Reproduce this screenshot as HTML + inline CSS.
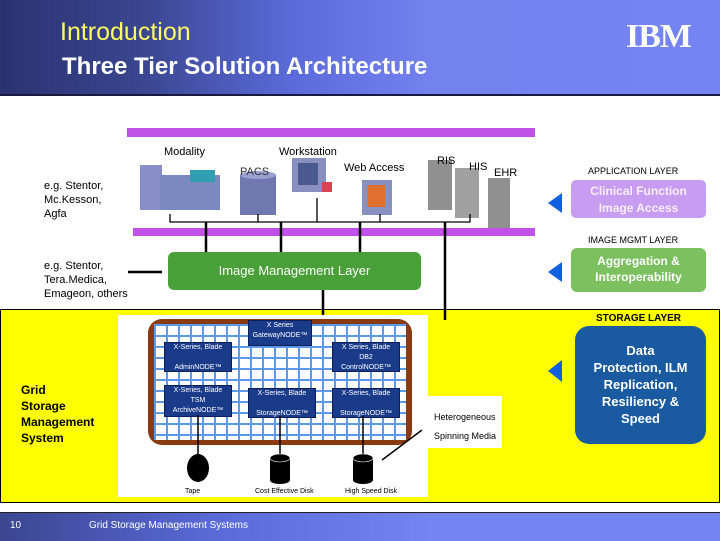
<!DOCTYPE html>
<html><head><style>
body{margin:0;width:720px;height:540px;position:relative;background:#fff;font-family:"Liberation Sans",sans-serif;overflow:hidden}
.a{position:absolute}
.t{font-size:11px;line-height:14px;color:#000}
.node{position:absolute;background:#1a3a8a;color:#fff;font-size:7px;text-align:center;line-height:10px;border:1px solid #0a1e5a}
</style></head><body>
<div class="a" style="left:0;top:0;width:720px;height:94px;background:linear-gradient(90deg,#2a3270 0%,#3a4690 20%,#5a6ad8 40%,#7482f0 60%,#7484f2 100%);border-bottom:2px solid #1a1a40"></div>
<div class="a" style="left:60px;top:18px;font-size:25px;color:#ffff60">Introduction</div>
<div class="a" style="left:62px;top:53px;font-size:24px;font-weight:bold;color:#fff">Three Tier Solution Architecture</div>
<div class="a" style="left:626px;top:18px;font-size:34px;font-weight:bold;color:#fff;letter-spacing:-1px;font-family:'Liberation Serif',serif">IBM</div>

<div class="a" style="left:127px;top:128px;width:408px;height:9px;background:#c050e8"></div>
<div class="a" style="left:133px;top:228px;width:402px;height:8px;background:#c050e8"></div>
<svg class="a" style="left:0;top:0" width="720" height="540">
<rect x="140" y="165" width="22" height="45" fill="#8a8ec8"/>
<rect x="160" y="175" width="60" height="35" fill="#7a8ac0"/>
<rect x="190" y="170" width="25" height="12" fill="#30a0b0"/>
<rect x="240" y="175" width="36" height="40" fill="#7078b0"/>
<ellipse cx="258" cy="175" rx="18" ry="4" fill="#9aa0d0"/>
<rect x="292" y="158" width="34" height="34" fill="#8890c0"/>
<rect x="298" y="163" width="20" height="22" fill="#4a5a90"/>
<path d="M322 182 l10 0 0 10 -10 0z" fill="#e04050"/>
<rect x="362" y="180" width="30" height="35" fill="#8890c0"/>
<rect x="367" y="185" width="18" height="22" fill="#e07030"/>
<rect x="428" y="160" width="24" height="50" fill="#909090"/>
<rect x="455" y="168" width="24" height="50" fill="#a0a0a0"/>
<rect x="488" y="178" width="22" height="50" fill="#909090"/>
<g stroke="#000" stroke-width="1.3" fill="none">
<path d="M170 214 V222 H470 V214 M258 214 V222 M317 198 V222 M380 214 V222"/>
</g>
<g stroke="#000" stroke-width="2.5">
<line x1="206" y1="222" x2="206" y2="252"/><line x1="281" y1="222" x2="281" y2="252"/><line x1="360" y1="222" x2="360" y2="252"/><line x1="445" y1="222" x2="445" y2="320"/>
<line x1="323" y1="290" x2="323" y2="320"/>
<line x1="128" y1="272" x2="162" y2="272"/>
</g>
<path d="M562 193 L548 203 L562 213Z" fill="#1060e0"/>
<path d="M562 262 L548 272 L562 282Z" fill="#1060e0"/>
<path d="M562 360 L548 371 L562 382Z" fill="#1060e0"/>
</svg>
<div class="a t" style="left:164px;top:145px">Modality</div>
<div class="a t" style="left:279px;top:145px">Workstation</div>
<div class="a t" style="left:240px;top:165px;color:#333">PACS</div>
<div class="a t" style="left:344px;top:161px">Web Access</div>
<div class="a t" style="left:437px;top:154px">RIS</div>
<div class="a t" style="left:469px;top:160px">HIS</div>
<div class="a t" style="left:494px;top:166px">EHR</div>
<div class="a t" style="left:44px;top:179px">e.g. Stentor,<br>Mc.Kesson,<br>Agfa</div>
<div class="a t" style="left:44px;top:259px">e.g. Stentor,<br>Tera.Medica,<br>Emageon, others</div>
<div class="a" style="left:168px;top:252px;width:253px;height:38px;background:#4aa038;border-radius:6px;color:#fff;font-size:13px;line-height:38px;text-align:center">Image Management Layer</div>
<div class="a" style="left:588px;top:166px;font-size:9px">APPLICATION LAYER</div>
<div class="a" style="left:571px;top:180px;width:135px;height:38px;background:#c89cf0;border-radius:5px;color:#f8eeff;font-size:12px;font-weight:bold;text-align:center;line-height:17px;padding-top:3px;box-sizing:border-box">Clinical Function<br>Image Access</div>
<div class="a" style="left:588px;top:235px;font-size:9px">IMAGE MGMT LAYER</div>
<div class="a" style="left:571px;top:248px;width:135px;height:44px;background:#7cc060;border-radius:6px;color:#fff;font-size:12px;font-weight:bold;text-align:center;line-height:16px;padding-top:5px;box-sizing:border-box">Aggregation &amp;<br>Interoperability</div>

<div class="a" style="left:0;top:309px;width:718px;height:192px;background:#ffff00;border:1px solid #000;z-index:-1"></div>
<div class="a" style="left:596px;top:313px;font-size:10px;font-weight:bold">STORAGE LAYER</div>
<div class="a" style="left:575px;top:326px;width:131px;height:118px;background:#1a5aa0;border-radius:14px;color:#fff;font-size:13px;font-weight:bold;text-align:center;line-height:17px;padding-top:16px;box-sizing:border-box">Data<br>Protection, ILM<br>Replication,<br>Resiliency &amp;<br>Speed</div>
<div class="a" style="left:21px;top:382px;font-size:12px;font-weight:bold;line-height:16px">Grid<br>Storage<br>Management<br>System</div>

<div class="a" style="left:118px;top:315px;width:310px;height:182px;background:#fff"></div>
<div class="a" style="left:428px;top:396px;width:74px;height:52px;background:#fff"></div>
<div class="a" style="left:148px;top:319px;width:264px;height:126px;background:#8a3a10;border-radius:14px"></div>
<div class="a" style="left:118px;top:330px;width:30px;height:18px;background:#fff"></div>
<div class="a" style="left:154px;top:324px;width:252px;height:116px;background-color:#fff;background-image:linear-gradient(90deg,#5a9ae8 2px,transparent 2px),linear-gradient(#5a9ae8 2px,transparent 2px);background-size:12px 11px"></div>
<div class="node" style="left:248px;top:320px;width:62px;height:24px">X Series<br>GatewayNODE™</div>
<div class="node" style="left:164px;top:342px;width:66px;height:28px">X-Series, Blade<br><br>AdminNODE™</div>
<div class="node" style="left:332px;top:342px;width:66px;height:28px">X Series, Blade<br>DB2<br>ControlNODE™</div>
<div class="node" style="left:164px;top:385px;width:66px;height:30px">X-Series, Blade<br>TSM<br>ArchiveNODE™</div>
<div class="node" style="left:248px;top:388px;width:66px;height:28px">X-Series, Blade<br><br>StorageNODE™</div>
<div class="node" style="left:332px;top:388px;width:66px;height:28px">X-Series, Blade<br><br>StorageNODE™</div>
<svg class="a" style="left:0;top:0" width="720" height="540">
<g stroke="#000" stroke-width="1.5"><line x1="198" y1="415" x2="198" y2="460"/><line x1="280" y1="416" x2="280" y2="460"/><line x1="363" y1="416" x2="363" y2="460"/><line x1="382" y1="460" x2="422" y2="430"/></g>
<ellipse cx="198" cy="468" rx="11" ry="14" fill="#000"/>
<path d="M270 458 h20 v22 a10 4 0 0 1 -20 0z" fill="#000"/><ellipse cx="280" cy="458" rx="10" ry="4" fill="#000" stroke="#fff" stroke-width=".6"/>
<path d="M353 458 h20 v22 a10 4 0 0 1 -20 0z" fill="#000"/><ellipse cx="363" cy="458" rx="10" ry="4" fill="#000" stroke="#fff" stroke-width=".6"/>
</svg>
<div class="a" style="left:434px;top:408px;font-size:9px;line-height:19px">Heterogeneous<br>Spinning Media</div>
<div class="a" style="left:185px;top:488px;font-size:7px">Tape</div>
<div class="a" style="left:255px;top:488px;font-size:7px">Cost Effective Disk</div>
<div class="a" style="left:345px;top:488px;font-size:7px">High Speed Disk</div>

<div class="a" style="left:0;top:512px;width:720px;height:28px;background:linear-gradient(90deg,#3a4690 0%,#5a6ad8 30%,#7484f2 60%);border-top:1px solid #222"></div>
<div class="a" style="left:10px;top:520px;font-size:10px;color:#fff">10</div>
<div class="a" style="left:89px;top:520px;font-size:10px;color:#fff">Grid Storage Management Systems</div>
</body></html>
